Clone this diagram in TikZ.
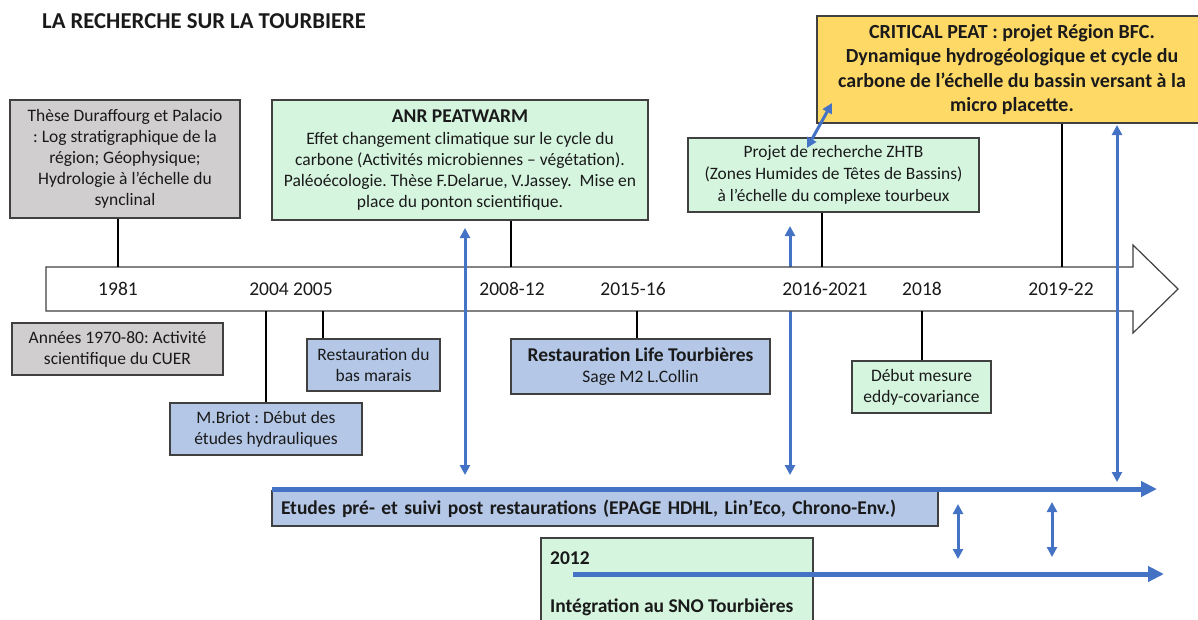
\documentclass[tikz,border=0pt]{standalone}
\usepackage{fontspec}
\setmainfont{Carlito}
\usetikzlibrary{arrows.meta}
\definecolor{grayfill}{HTML}{D0CECE}
\definecolor{greenfill}{HTML}{D5F5DF}
\definecolor{bluefill}{HTML}{B4C7E7}
\definecolor{goldfill}{HTML}{FFD966}
\definecolor{arrowblue}{HTML}{4472C4}
\definecolor{bordc}{HTML}{404040}
\definecolor{txt}{HTML}{1A1A1A}
\frenchspacing
\begin{document}
\begin{tikzpicture}[x=1pt,y=-1pt,
  box/.style={draw=bordc, line width=1.3pt, inner sep=0pt, align=center, text=txt,
    font=\fontsize{17.5}{21}\selectfont},
  boldbox/.style={box, font=\fontsize{20}{24.5}\selectfont\bfseries},
  yr/.style={inner sep=0pt, text=txt, font=\fontsize{19.5}{22}\selectfont},
  link/.style={line width=2.6pt, black},
  barrow/.style={draw=arrowblue, line width=3pt,
    {Triangle[length=10pt,width=10pt]}-{Triangle[length=10pt,width=10pt]}},
  bigarrow/.style={draw=arrowblue, line width=5pt, -{Triangle[length=16pt,width=15pt]}},
  tline/.style={draw=bordc, line width=1.2pt, fill=white}
]
\useasboundingbox (0,0) rectangle (1198,619);

% title
\node[anchor=base west, inner sep=0pt, text=txt, font=\fontsize{22.7}{26}\selectfont\bfseries]
  (title) at (42,28) {LA RECHERCHE SUR LA TOURBIERE};

% boxes above the timeline
\node[box, fill=grayfill, minimum width=230, minimum height=118] (these) at (125,159)
  {Thèse Duraffourg et Palacio\\ : Log stratigraphique de la\\ région; Géophysique;\\ Hydrologie à l’échelle du\\ synclinal};
\node[box, fill=greenfill, minimum width=376, minimum height=120] (anr) at (460,160)
  {{\fontsize{19.5}{23}\selectfont\bfseries ANR PEATWARM}\\[1pt] Effet changement climatique sur le cycle du\\ carbone (Activités microbiennes – végétation).\\ Paléoécologie. Thèse F.Delarue, V.Jassey.~ Mise en\\ place du ponton scientifique.};
\node[boldbox, fill=goldfill, minimum width=390, minimum height=107] (crit) at (1012,69.5)
  {CRITICAL PEAT : projet Région BFC.\\ Dynamique hydrogéologique et cycle du\\ carbone de l’échelle du bassin versant à la\\ micro placette.};
\node[box, fill=greenfill, minimum width=291, minimum height=74, font=\fontsize{17.4}{22}\selectfont] (zhtb) at (833.5,175)
  {Projet de recherche ZHTB\\ (Zones Humides de Têtes de Bassins)\\ à l’échelle du complexe tourbeux};

% boxes below the timeline
\node[box, fill=grayfill, minimum width=211, minimum height=52] (annees) at (117.5,349)
  {Années 1970-80: Activité\\ scientifique du CUER};
\node[box, fill=bluefill, minimum width=133, minimum height=52] (resto) at (373.5,365)
  {Restauration du\\ bas marais};
\node[box, fill=bluefill, minimum width=192, minimum height=52] (briot) at (266,429)
  {M.Briot : Début des\\ études hydrauliques};
\node[box, fill=bluefill, minimum width=259, minimum height=55] (life) at (640.5,366.5)
  {{\fontsize{19.5}{22}\selectfont\bfseries Restauration Life Tourbières}\\ Sage M2 L.Collin};
\node[box, fill=greenfill, minimum width=139, minimum height=52] (debut) at (921.5,387)
  {Début mesure\\ eddy-covariance};

% bottom boxes
\node[box, fill=bluefill, text width=648, inner xsep=9pt, minimum height=35, align=left,
  font=\fontsize{19.5}{22}\selectfont\bfseries] (etudes) at (605,508.5)
  {Etudes pré- et suivi post restaurations (EPAGE HDHL, Lin’Eco, Chrono-Env.)};
\node[box, fill=greenfill, minimum width=272, minimum height=102] (sno) at (677,589) {};
\node[anchor=base west, inner sep=0pt, text=txt, font=\fontsize{19.5}{22}\selectfont\bfseries]
  (sno-year) at (550,564) {2012};
\node[anchor=base west, inner sep=0pt, text=txt, font=\fontsize{19.5}{22}\selectfont\bfseries]
  (sno-text) at (550,612) {Intégration au SNO Tourbières};

% coordinates for the blue arrows
\coordinate (a1t) at (465,228);
\coordinate (a1b) at (465,475);
\coordinate (a2t) at (790,226);
\coordinate (a2b) at (790,475);
\coordinate (a3t) at (1117,125);
\coordinate (a3b) at (1117,482);

% arrow behind the timeline
\draw[barrow] (a2t) -- (a2b);

% timeline
\draw[tline] (46,267) -- (1133,267) -- (1133,245) -- (1178,289) -- (1133,333)
  -- (1133,311) -- (46,311) -- cycle;

% year labels
\node[yr] (y1981) at (118,289) {1981};
\node[yr] (y2004) at (291,289) {2004 2005};
\node[yr] (y2008) at (512,289) {2008-12};
\node[yr] (y2015) at (633,289) {2015-16};
\node[yr] (y2016) at (825,289) {2016-2021};
\node[yr] (y2018) at (922,289) {2018};
\node[yr] (y2019) at (1061,289) {2019-22};

% connectors above
\coordinate (k1981) at (118,267);
\coordinate (k2008) at (511,267);
\coordinate (k2016) at (822,267);
\coordinate (k2019) at (1062,267);
\draw[link] (k1981 |- these.south) -- (k1981);
\draw[link] (k2008 |- anr.south) -- (k2008);
\draw[link] (k2016 |- zhtb.south) -- (k2016);
\draw[link] (k2019 |- crit.south) -- (k2019);

% connectors below
\coordinate (k2004) at (266,311);
\coordinate (k2005) at (323,311);
\coordinate (k2015) at (637,311);
\coordinate (k2018) at (922,311);
\draw[link] (k2004) -- (k2004 |- briot.north);
\draw[link] (k2005) -- (k2005 |- resto.north);
\draw[link] (k2015) -- (k2015 |- life.north);
\draw[link] (k2018) -- (k2018 |- debut.north);

% blue arrows on top of the timeline
\draw[barrow] (a1t) -- (a1b);
\draw[barrow] (a3t) -- (a3b);
\coordinate (a4a) at (807,148);
\coordinate (a4b) at (832,103);
\draw[barrow] (a4a) -- (a4b);

% big horizontal arrows
\coordinate (h1s) at (272,489);
\coordinate (h1e) at (1157,489);
\draw[bigarrow] (h1s) -- (h1e);
\coordinate (h2s) at (573,574);
\coordinate (h2e) at (1164,574);
\draw[bigarrow] (h2s) -- (h2e);

% short double arrows
\coordinate (s1t) at (958,504);
\coordinate (s1b) at (958,559);
\coordinate (s2t) at (1052,502);
\coordinate (s2b) at (1052,557);
\draw[barrow] (s1t) -- (s1b);
\draw[barrow] (s2t) -- (s2b);
\end{tikzpicture}
\end{document}
